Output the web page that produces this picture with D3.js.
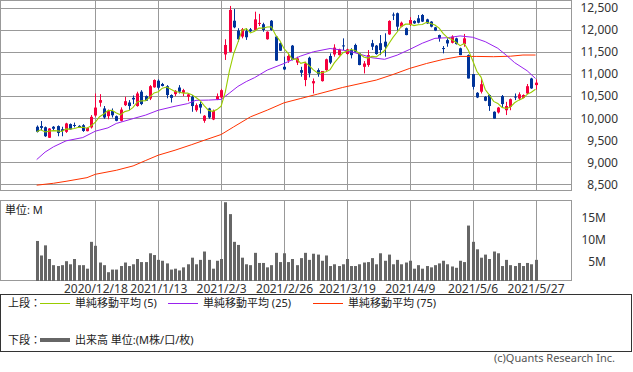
<!DOCTYPE html>
<html>
<head>
<meta charset="utf-8">
<script src="https://cdn.jsdelivr.net/npm/d3@7"></script>
<style>
body { margin: 0; background: #fff; }
text { font-family: "Noto Sans", "Noto Sans CJK JP", sans-serif; }
.grid line { stroke: #999; stroke-width: 1; shape-rendering: crispEdges; }
.grid path { display: none; }
</style>
</head>
<body>
<div id="chart"></div>
<script>
var dates = [
	"2020/11/30","2020/12/1","2020/12/2","2020/12/3","2020/12/4","2020/12/7","2020/12/8","2020/12/9","2020/12/10","2020/12/11",
	"2020/12/14","2020/12/15","2020/12/16","2020/12/17","2020/12/18","2020/12/21","2020/12/22","2020/12/23","2020/12/24","2020/12/25",
	"2020/12/28","2020/12/29","2020/12/30","2021/1/4","2021/1/5","2021/1/6","2021/1/7","2021/1/8","2021/1/12","2021/1/13",
	"2021/1/14","2021/1/15","2021/1/18","2021/1/19","2021/1/20","2021/1/21","2021/1/22","2021/1/25","2021/1/26","2021/1/27",
	"2021/1/28","2021/1/29","2021/2/1","2021/2/2","2021/2/3","2021/2/4","2021/2/5","2021/2/8","2021/2/9","2021/2/10",
	"2021/2/12","2021/2/15","2021/2/16","2021/2/17","2021/2/18","2021/2/19","2021/2/22","2021/2/24","2021/2/25","2021/2/26",
	"2021/3/1","2021/3/2","2021/3/3","2021/3/4","2021/3/5","2021/3/8","2021/3/9","2021/3/10","2021/3/11","2021/3/12",
	"2021/3/15","2021/3/16","2021/3/17","2021/3/18","2021/3/19","2021/3/22","2021/3/23","2021/3/24","2021/3/25","2021/3/26",
	"2021/3/29","2021/3/30","2021/3/31","2021/4/1","2021/4/2","2021/4/5","2021/4/6","2021/4/7","2021/4/8","2021/4/9",
	"2021/4/12","2021/4/13","2021/4/14","2021/4/15","2021/4/16","2021/4/19","2021/4/20","2021/4/21","2021/4/22","2021/4/23",
	"2021/4/26","2021/4/27","2021/4/28","2021/4/30","2021/5/6","2021/5/7","2021/5/10","2021/5/11","2021/5/12","2021/5/13",
	"2021/5/14","2021/5/17","2021/5/18","2021/5/19","2021/5/20","2021/5/21","2021/5/24","2021/5/25","2021/5/26","2021/5/27"
];

var open = [
	9805, 9820, 9795, 9555, 9805, 9820, 9750, 9690, 9865, 9845,
	9825, 9840, 9705, 9790, 10060, 10350, 10220, 10045, 10160, 10045,
	9940, 10295, 10355, 10460, 10275, 10600, 10500, 10445, 10700, 10850,
	10775, 10725, 10525, 10545, 10695, 10575, 10485, 10485, 10180, 10320,
	9940, 10220, 9970, 10425, 10470, 11445, 11505, 12210, 11985, 11850,
	11975, 12015, 12000, 12145, 12130, 11790, 12210, 11850, 11700, 11165,
	11305, 11645, 11260, 11090, 10865, 11370, 10790, 11090, 10840, 11090,
	11410, 11445, 11430, 11650, 11455, 11545, 11660, 11470, 11165, 11205,
	11700, 11645, 11700, 11735, 11900, 12350, 12380, 12075, 12040, 12115,
	12205, 12265, 12340, 12240, 12190, 12060, 11885, 11590, 11770, 11710,
	11810, 11585, 11680, 11430, 11000, 10575, 10600, 10485, 10525, 10145,
	10130, 10500, 10180, 10255, 10490, 10445, 10460, 10560, 10900, 10750
];
var high = [
	9835, 9935, 9810, 9775, 9820, 9835, 9805, 9895, 9880, 9900,
	9840, 9865, 9790, 10070, 10560, 10545, 10275, 10195, 10220, 10060,
	10245, 10485, 10410, 10515, 10600, 10635, 10515, 10750, 10880, 10880,
	10800, 10750, 10540, 10635, 10750, 10665, 10560, 10525, 10335, 10370,
	10070, 10235, 10195, 10560, 10665, 11790, 12545, 12475, 12040, 12045,
	12040, 12045, 12415, 12365, 12165, 11970, 12225, 11860, 11720, 11395,
	11450, 11660, 11395, 11165, 11280, 11395, 10900, 11130, 10865, 11350,
	11470, 11675, 11575, 11810, 11575, 11585, 11690, 11480, 11295, 11545,
	11775, 11660, 11885, 11925, 12220, 12395, 12395, 12190, 12055, 12290,
	12220, 12340, 12360, 12255, 12200, 12070, 11895, 11635, 11810, 11880,
	11825, 11600, 11910, 11445, 11000, 10590, 10885, 10500, 10540, 10155,
	10255, 10525, 10370, 10445, 10560, 10585, 10540, 10775, 10915, 10880
];
var low = [
	9675, 9725, 9575, 9550, 9725, 9590, 9590, 9665, 9740, 9790,
	9780, 9690, 9700, 9765, 10030, 10260, 9985, 9975, 10015, 9930,
	9925, 10275, 10180, 10320, 10260, 10295, 10390, 10410, 10690, 10650,
	10720, 10450, 10355, 10500, 10560, 10500, 10385, 10145, 10145, 10105,
	9895, 9985, 9955, 10410, 10445, 11320, 11490, 12040, 11735, 11810,
	11775, 11955, 11985, 12090, 11960, 11780, 11985, 11300, 11525, 11090,
	11255, 11310, 11205, 10940, 10725, 10925, 10560, 10940, 10830, 11075,
	11225, 11395, 11420, 11545, 11440, 11355, 11490, 11200, 11015, 11165,
	11545, 11440, 11430, 11395, 11890, 12225, 11985, 12060, 11880, 12090,
	12140, 12150, 12180, 12140, 12060, 11975, 11735, 11470, 11620, 11695,
	11670, 11430, 11620, 10900, 10650, 10455, 10560, 10385, 10165, 9990,
	10105, 10245, 10070, 10180, 10410, 10410, 10450, 10545, 10665, 10650
];
var close = [
	9690, 9780, 9590, 9765, 9760, 9665, 9710, 9880, 9745, 9835,
	9790, 9710, 9780, 10030, 10240, 10410, 10015, 10160, 10065, 9940,
	10195, 10385, 10275, 10425, 10560, 10320, 10395, 10725, 10865, 10690,
	10730, 10525, 10460, 10620, 10600, 10635, 10540, 10275, 10295, 10240,
	10055, 10015, 10165, 10500, 10635, 11660, 12455, 12060, 11790, 12015,
	11835, 11970, 12240, 12160, 12000, 11960, 12000, 11305, 11530, 11105,
	11410, 11320, 11355, 11030, 11240, 11015, 10840, 11000, 11070, 11335,
	11260, 11600, 11560, 11630, 11560, 11430, 11505, 11205, 11240, 11430,
	11620, 11455, 11545, 11620, 12205, 12330, 12075, 12165, 11885, 12225,
	12150, 12165, 12190, 12150, 12075, 11985, 11810, 11570, 11695, 11850,
	11680, 11430, 11810, 10900, 10710, 10470, 10770, 10395, 10275, 9990,
	10240, 10320, 10275, 10430, 10480, 10540, 10525, 10725, 10675, 10805
];
// 出来高 (M)
var volume = [
	9.1, 5.8, 8.1, 5.0, 3.6, 3.4, 3.6, 4.5, 3.8, 5.0,
	3.6, 3.6, 2.8, 8.9, 8.0, 4.2, 3.6, 2.0, 2.6, 2.6,
	3.4, 4.2, 3.4, 3.8, 5.0, 4.3, 4.3, 6.3, 5.9, 4.8,
	4.6, 4.0, 2.6, 2.8, 2.4, 3.1, 3.8, 5.3, 3.8, 4.8,
	6.7, 4.8, 2.8, 4.6, 5.0, 17.9, 15.2, 8.9, 8.2, 5.3,
	3.8, 3.6, 6.4, 4.1, 4.1, 3.1, 3.6, 6.4, 4.3, 6.3,
	4.3, 5.0, 3.6, 5.2, 6.4, 4.8, 6.2, 6.0, 4.6, 5.8,
	3.4, 3.8, 3.4, 3.8, 5.0, 3.4, 3.4, 3.8, 4.2, 4.3,
	5.2, 3.8, 6.3, 4.6, 6.0, 3.8, 4.8, 3.8, 4.2, 4.6,
	2.8, 3.6, 2.8, 3.4, 3.1, 3.6, 4.0, 4.6, 3.8, 3.3,
	3.0, 4.6, 4.3, 12.6, 8.9, 7.2, 5.3, 6.0, 5.0, 6.7,
	6.3, 3.4, 4.8, 3.6, 3.4, 4.1, 3.4, 4.1, 3.8, 4.8
];
// 25日 / 75日 移動平均 (index, value)
var ma25 = [
	[0, 9060], [2, 9230], [4, 9350], [7, 9485], [11, 9560], [14, 9705], [17, 9780], [19, 9880],
	[23, 9990], [26, 10070], [29, 10180], [33, 10270], [36, 10330], [38, 10405], [41, 10410], [44, 10425],
	[46, 10570], [48, 10720], [50, 10830], [52, 10920], [55, 11090], [59, 11240], [63, 11410], [66, 11505],
	[70, 11580], [74, 11530], [77, 11455], [80, 11370], [83, 11335], [86, 11430], [89, 11560], [92, 11700],
	[95, 11810], [98, 11825], [101, 11865], [104, 11835], [107, 11735], [110, 11585], [112, 11430], [114, 11260],
	[117, 11075], [119, 10900]
];
var ma75 = [
	[0, 8480], [4, 8523], [7, 8568], [12, 8651], [14, 8727], [19, 8818], [23, 8917], [26, 9040],
	[29, 9160], [33, 9273], [37, 9400], [40, 9500], [44, 9629], [47, 9803], [51, 10030], [55, 10182],
	[59, 10348], [63, 10447], [67, 10545], [73, 10697], [81, 10864], [85, 10990], [89, 11129], [93, 11240],
	[97, 11333], [101, 11400], [105, 11400], [109, 11394], [113, 11405], [116, 11432], [119, 11432]
];
var priceTicks = [8500, 9000, 9500, 10000, 10500, 11000, 11500, 12000, 12500];
var volTicks = [5, 10, 15];
var dateTicks = [14, 29, 44, 59, 74, 89, 104, 119];

var W = 572, mainH = 191, volTop = 200, volBottom = 281;

var svg = d3.select("#chart").append("svg")
	.attr("width", 633)
	.attr("height", 372);

var x = d3.scaleLinear().domain([-8.75, 127.7]).range([0, W]);
var y = d3.scaleLinear().domain([8348, 12680]).range([mainH, 0]);
var yv = d3.scaleLinear().domain([0, 5]).range([volBottom, volBottom - 22]);

// grid (main)
svg.append("g")
	.attr("class", "grid")
	.call(d3.axisLeft(y).tickValues(priceTicks).tickSize(-W).tickFormat(""));
svg.append("g")
	.attr("class", "grid")
	.attr("transform", "translate(0," + mainH + ")")
	.call(d3.axisBottom(x).tickValues(dateTicks).tickSize(-mainH).tickFormat(""));
// grid (volume)
svg.append("g")
	.attr("class", "grid")
	.attr("transform", "translate(0," + volBottom + ")")
	.call(d3.axisBottom(x).tickValues(dateTicks).tickSize(-(volBottom - volTop)).tickFormat(""));

// frames
svg.append("rect")
	.attr("x", 0.5).attr("y", 0.5)
	.attr("width", W - 1).attr("height", mainH - 1)
	.attr("fill", "none").attr("stroke", "#999");
svg.append("rect")
	.attr("x", 0.5).attr("y", volTop + 0.5)
	.attr("width", W - 1).attr("height", volBottom - volTop - 1)
	.attr("fill", "none").attr("stroke", "#999");

// candles
var candles = d3.range(dates.length).map(function(i) {
	return {i: i, o: open[i], h: high[i], l: low[i], c: close[i], v: volume[i]};
});
var upColor = "#f5003d", downColor = "#003399";

var cg = svg.append("g");
cg.selectAll(".wick")
	.data(candles)
	.enter()
	.append("line")
		.attr("x1", function(d) { return Math.round(x(d.i)) + 0.5; })
		.attr("x2", function(d) { return Math.round(x(d.i)) + 0.5; })
		.attr("y1", function(d) { return y(d.h); })
		.attr("y2", function(d) { return y(d.l); })
		.attr("stroke", function(d) { return d.c >= d.o ? upColor : downColor; })
		.attr("stroke-width", 1);
cg.selectAll(".body")
	.data(candles)
	.enter()
	.append("rect")
		.attr("x", function(d) { return Math.round(x(d.i)) - 1; })
		.attr("width", 3)
		.attr("y", function(d) { return y(Math.max(d.o, d.c)); })
		.attr("height", function(d) { return Math.max(1, Math.abs(y(d.o) - y(d.c))); })
		.attr("fill", function(d) { return d.c >= d.o ? upColor : downColor; });

// moving averages
var ma5 = candles.map(function(d) {
	var s = close.slice(Math.max(0, d.i - 4), d.i + 1);
	return [d.i, d3.mean(s)];
});
var line = d3.line()
	.x(function(d) { return x(d[0]); })
	.y(function(d) { return y(d[1]); });

svg.append("path").datum(ma75).attr("d", line)
	.attr("fill", "none").attr("stroke", "#ff3300").attr("stroke-width", 1);
svg.append("path").datum(ma25).attr("d", line)
	.attr("fill", "none").attr("stroke", "#9922ee").attr("stroke-width", 1);
svg.append("path").datum(ma5).attr("d", line)
	.attr("fill", "none").attr("stroke", "#99cc00").attr("stroke-width", 1.1);

// volume bars
svg.append("g").selectAll("rect")
	.data(candles)
	.enter()
	.append("rect")
		.attr("x", function(d) { return Math.round(x(d.i)) - 1; })
		.attr("width", 3)
		.attr("y", function(d) { return yv(d.v); })
		.attr("height", function(d) { return volBottom - yv(d.v); })
		.attr("fill", "#666");

// price axis
var pa = svg.append("g")
	.attr("transform", "translate(618,0)")
	.call(d3.axisRight(y).tickValues(priceTicks).tickSize(0).tickFormat(d3.format(",")));
pa.select(".domain").remove();
pa.selectAll("text")
	.attr("x", 0).attr("text-anchor", "end")
	.attr("font-size", 12).attr("fill", "#333")
	.style("font-family", "'Noto Sans', sans-serif");

// volume axis
var va = svg.append("g")
	.attr("transform", "translate(606,0)")
	.call(d3.axisRight(yv).tickValues(volTicks).tickSize(0).tickFormat(function(d) { return d + "M"; }));
va.select(".domain").remove();
va.selectAll("text")
	.attr("x", 0).attr("dy", "0.55em").attr("text-anchor", "end")
	.attr("font-size", 12).attr("fill", "#333")
	.style("font-family", "'Noto Sans', sans-serif");

// date axis
var da = svg.append("g")
	.attr("transform", "translate(0," + volBottom + ")")
	.call(d3.axisBottom(x).tickValues(dateTicks).tickSize(0).tickPadding(3).tickFormat(function(i) { return dates[i]; }));
da.select(".domain").remove();
da.selectAll("text")
	.attr("font-size", 12).attr("fill", "#333")
	.style("font-family", "'Noto Sans', sans-serif");

svg.append("text")
	.attr("x", 5).attr("y", 214)
	.attr("font-size", 11).attr("fill", "#222")
	.text("単位: M");

// legend
svg.append("rect")
	.attr("x", 0.5).attr("y", 294.5)
	.attr("width", 631).attr("height", 57)
	.attr("fill", "none").attr("stroke", "#333");

var legendItems = [
	{label: "単純移動平均 (5)", color: "#99cc00", x: 40},
	{label: "単純移動平均 (25)", color: "#9922ee", x: 168},
	{label: "単純移動平均 (75)", color: "#ff3300", x: 313}
];
var lg = svg.append("g").style("font-family", "'Noto Sans CJK JP', sans-serif").attr("font-size", 11).attr("fill", "#222");
lg.append("text").attr("x", 8).attr("y", 307).text("上段：");
lg.selectAll(".li")
	.data(legendItems)
	.enter()
	.append("line")
		.attr("x1", function(d) { return d.x; })
		.attr("x2", function(d) { return d.x + 30; })
		.attr("y1", 303.5).attr("y2", 303.5)
		.attr("stroke", function(d) { return d.color; });
lg.selectAll(".lt")
	.data(legendItems)
	.enter()
	.append("text")
		.attr("x", function(d) { return d.x + 35; })
		.attr("y", 307)
		.text(function(d) { return d.label; });
lg.append("text").attr("x", 8).attr("y", 344).text("下段：");
lg.append("line")
	.attr("x1", 40).attr("x2", 70)
	.attr("y1", 340).attr("y2", 340)
	.attr("stroke", "#666").attr("stroke-width", 4);
lg.append("text").attr("x", 75).attr("y", 344).text("出来高 単位:(M株/口/枚)");

svg.append("text")
	.attr("x", 615).attr("y", 362)
	.attr("text-anchor", "end")
	.attr("font-size", 11).attr("fill", "#555")
	.text("(c)Quants Research Inc.");
</script>
</body>
</html>
